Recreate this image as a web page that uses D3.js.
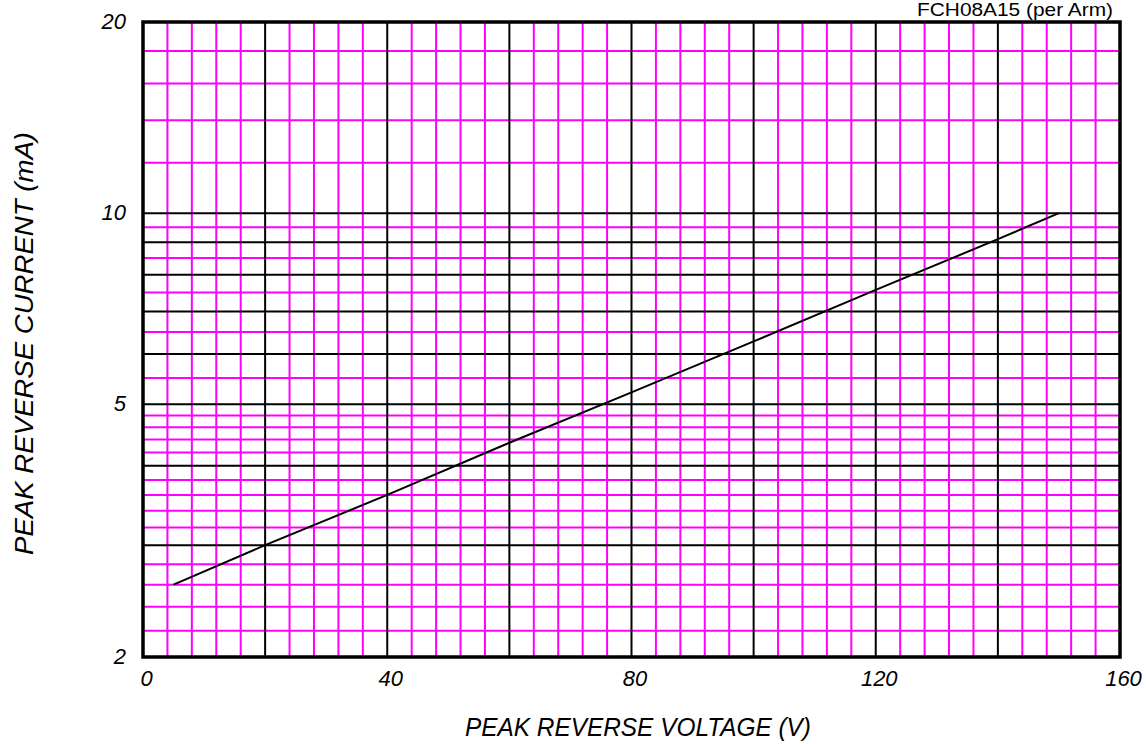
<!DOCTYPE html>
<html>
<head>
<meta charset="utf-8">
<script src="https://cdn.jsdelivr.net/npm/d3@7"></script>
<style>
  html, body { margin: 0; padding: 0; background: #fff; }
  svg { display: block; font-family: "Liberation Sans", Arial, sans-serif; }
</style>
</head>
<body>
<svg id="chart" width="1146" height="744"></svg>
<script>
// ---- data ----
const curveVoltage = [5, 20, 40, 60, 80, 100, 120, 140, 150];
const curveCurrent = [2.6, 3.0, 3.6, 4.35, 5.22, 6.28, 7.57, 9.1, 10];
const xTickLabels = [0, 40, 80, 120, 160];
const yTickLabels = [2, 5, 10, 20];
const xMajorGrid = [20, 40, 60, 80, 100, 120, 140];
const xMinorGrid = [4, 8, 12, 16, 24, 28, 32, 36, 44, 48, 52, 56, 64, 68, 72, 76, 84, 88, 92, 96,
                    104, 108, 112, 116, 124, 128, 132, 136, 144, 148, 152, 156];
const yMajorGrid = [3, 4, 5, 6, 7, 8, 9, 10];
const yMinorGrid = [2.2, 2.4, 2.6, 2.8, 3.2, 3.4, 3.6, 3.8, 4.2, 4.4, 4.6, 4.8,
                    5.5, 6.5, 7.5, 8.5, 9.5, 12, 14, 16, 18];
const titleText = "FCH08A15 (per Arm)";
const xTitle = "PEAK REVERSE VOLTAGE (V)";
const yTitle = "PEAK REVERSE CURRENT (mA)";

// ---- layout ----
const L = 143, R = 1120, T = 22, B = 657;
const svg = d3.select("#chart");
const x = d3.scaleLinear().domain([0, 160]).range([L, R]);
const y = d3.scaleLog().domain([2, 20]).range([B, T]);

const magenta = "#ff00ff";

// minor grid
svg.append("g").selectAll("line").data(xMinorGrid).join("line")
  .attr("x1", d => x(d)).attr("x2", d => x(d)).attr("y1", T).attr("y2", B)
  .attr("stroke", magenta).attr("stroke-width", 2);
svg.append("g").selectAll("line").data(yMinorGrid).join("line")
  .attr("x1", L).attr("x2", R).attr("y1", d => y(d)).attr("y2", d => y(d))
  .attr("stroke", magenta).attr("stroke-width", 2);

// major grid
svg.append("g").selectAll("line").data(xMajorGrid).join("line")
  .attr("x1", d => x(d)).attr("x2", d => x(d)).attr("y1", T).attr("y2", B)
  .attr("stroke", "#000").attr("stroke-width", 2);
svg.append("g").selectAll("line").data(yMajorGrid).join("line")
  .attr("x1", L).attr("x2", R).attr("y1", d => y(d)).attr("y2", d => y(d))
  .attr("stroke", "#000").attr("stroke-width", 2);

// frame
svg.append("rect").attr("x", L).attr("y", T).attr("width", R - L).attr("height", B - T)
  .attr("fill", "none").attr("stroke", "#000").attr("stroke-width", 3.5);

// curve
const pts = curveVoltage.map((v, i) => [v, curveCurrent[i]]);
svg.append("path").datum(pts)
  .attr("d", d3.line().x(d => x(d[0])).y(d => y(d[1])))
  .attr("fill", "none").attr("stroke", "#000").attr("stroke-width", 2);

// axes (labels only)
const xAxis = svg.append("g").attr("transform", `translate(0,${B + 10})`)
  .call(d3.axisBottom(x).tickValues(xTickLabels).tickSize(0).tickFormat(d3.format("d")));
xAxis.select(".domain").remove();
xAxis.selectAll("text").attr("font-size", 22).attr("font-style", "italic")
  .attr("font-family", "Liberation Sans, Arial, sans-serif").attr("fill", "#000").attr("dy", "0.71em").attr("dx", 3);

const yAxis = svg.append("g").attr("transform", `translate(${L - 14},0)`)
  .call(d3.axisLeft(y).tickValues(yTickLabels).tickSize(0).tickFormat(d3.format("d")));
yAxis.select(".domain").remove();
yAxis.selectAll("text").attr("font-size", 22).attr("font-style", "italic")
  .attr("font-family", "Liberation Sans, Arial, sans-serif").attr("fill", "#000").attr("dy", "0.3em");

// titles
svg.append("text").attr("x", 917).attr("y", 16)
  .attr("font-size", 19).attr("fill", "#000")
  .attr("textLength", 196).attr("lengthAdjust", "spacingAndGlyphs").text(titleText);

svg.append("text").attr("x", 465).attr("y", 736)
  .attr("font-size", 25).attr("font-style", "italic").attr("fill", "#000")
  .attr("textLength", 346).attr("lengthAdjust", "spacingAndGlyphs").text(xTitle);

svg.append("text").attr("transform", "translate(33,555) rotate(-90)")
  .attr("font-size", 25).attr("font-style", "italic").attr("fill", "#000")
  .attr("textLength", 423).attr("lengthAdjust", "spacingAndGlyphs").text(yTitle);
</script>
</body>
</html>
